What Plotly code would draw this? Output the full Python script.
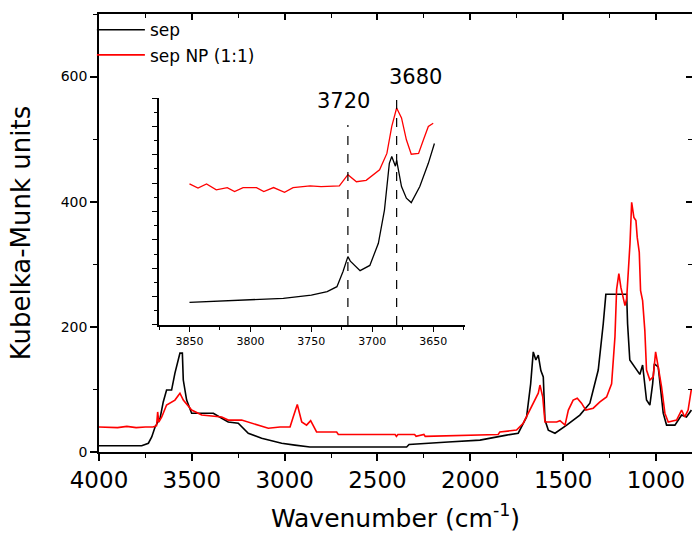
import plotly.graph_objects as go

# ---- main spectrum: sep (black) ----
sep_wn = [4000, 3780, 3770, 3734, 3716, 3698, 3671, 3654, 3636, 3609, 3591, 3564, 3551, 3546,
          3528, 3501, 3440, 3384, 3339, 3304, 3250, 3196, 3124, 3016, 2945, 2864, 2343, 2330,
          2119, 1948, 1805, 1742, 1697, 1675, 1661, 1647, 1634, 1620, 1607, 1598, 1580, 1544,
          1481, 1410, 1356, 1311, 1284, 1270, 1158, 1153, 1141, 1104, 1087, 1072, 1051, 1033,
          1018, 1009, 988, 961, 943, 898, 862, 836, 809]
sep_km = [10, 10, 10, 14, 24, 40, 54, 80, 99, 99, 126, 158, 158, 115,
          83, 62, 62, 62, 54, 48, 46, 30, 22, 14, 11, 8, 8, 12,
          16, 19, 27, 30, 56, 109, 160, 147, 155, 130, 120, 51, 35, 30,
          43, 59, 78, 131, 205, 252, 252, 205, 147, 131, 124, 139, 83, 75,
          109, 141, 136, 62, 43, 43, 59, 56, 67]

# ---- main spectrum: sep NP (1:1) (red) ----
np_wn = [4000, 3900, 3850, 3800, 3750, 3709, 3690, 3684, 3678, 3662, 3636, 3591, 3564, 3546,
         3501, 3447, 3339, 3304, 3232, 3178, 3088, 3025, 2971, 2954, 2932, 2908, 2882, 2860,
         2828, 2720, 2711, 2405, 2398, 2390, 2300, 2292, 2250, 2243, 1850, 1841, 1751, 1715,
         1688, 1661, 1634, 1625, 1610, 1598, 1535, 1517, 1490, 1472, 1446, 1424, 1401, 1378,
         1338, 1302, 1266, 1239, 1221, 1212, 1200, 1189, 1176, 1167, 1158, 1149, 1140, 1131,
         1119, 1108, 1101, 1090, 1083, 1072, 1060, 1051, 1033, 1015, 1002, 988, 970, 952,
         934, 889, 862, 845, 827, 809]
np_km = [40, 39, 41, 39, 40, 40, 42, 64, 48, 56, 75, 83, 94, 83,
         67, 59, 56, 51, 51, 46, 38, 40, 40, 56, 76, 48, 43, 50,
         32, 32, 28, 28, 25, 28, 28, 25, 28, 25, 28, 32, 35, 46,
         62, 78, 94, 107, 88, 48, 48, 50, 43, 67, 83, 86, 78, 67,
         70, 80, 88, 109, 184, 260, 285, 263, 248, 234, 245, 282, 333, 399,
         375, 370, 343, 319, 258, 242, 194, 131, 115, 120, 160, 136, 104, 62,
         48, 51, 67, 56, 67, 101]

# ---- inset (3850-3650 cm-1, arbitrary units) ----
in_sep_wn = [3850, 3800, 3773, 3750, 3737, 3729, 3724, 3720, 3718, 3710, 3702, 3695, 3690,
             3686, 3684, 3681, 3680, 3676, 3672, 3668, 3661, 3654, 3649]
in_sep_v = [1.6, 1.76, 1.88, 2.1, 2.35, 2.7, 3.77, 4.82, 4.5, 3.83, 4.2, 5.76, 8.1,
            11.4, 11.88, 11.2, 11.6, 9.76, 8.94, 8.63, 9.76, 11.4, 12.8]
in_np_wn = [3850, 3843, 3836, 3828, 3819, 3813, 3806, 3795, 3789, 3781, 3772, 3765, 3751,
            3742, 3727, 3720, 3713, 3705, 3694, 3688, 3684, 3680, 3676, 3672, 3668, 3662,
            3658, 3654, 3650]
in_np_v = [9.95, 9.65, 9.95, 9.53, 9.69, 9.41, 9.69, 9.69, 9.41, 9.69, 9.36, 9.69, 9.81,
           9.76, 9.81, 10.6, 10.1, 10.2, 10.94, 12.1, 14.0, 15.3, 14.6, 13.06, 12.04, 12.1,
           13.06, 14.0, 14.23]

marks = ["3720", "3680"]
mark_wn = [3720, 3680]
mark_top = [14.1, 16.0]

FONT = "DejaVu Sans"

fig = go.Figure()
fig.add_trace(go.Scatter(x=sep_wn, y=sep_km, mode="lines", name="sep",
                         line=dict(color="black", width=1.6)))
fig.add_trace(go.Scatter(x=np_wn, y=np_km, mode="lines", name="sep NP (1:1)",
                         line=dict(color="#ff0000", width=1.6)))
# mirror axes helper (invisible)
fig.add_trace(go.Scatter(x=[4000], y=[0], xaxis="x2", yaxis="y2", mode="markers",
                         marker=dict(opacity=0), showlegend=False, hoverinfo="skip"))
# inset
fig.add_trace(go.Scatter(x=in_sep_wn, y=in_sep_v, xaxis="x3", yaxis="y3", mode="lines",
                         line=dict(color="black", width=1.3), showlegend=False))
fig.add_trace(go.Scatter(x=in_np_wn, y=in_np_v, xaxis="x3", yaxis="y3", mode="lines",
                         line=dict(color="#ff0000", width=1.3), showlegend=False))

for wn, top in zip(mark_wn, mark_top):
    fig.add_shape(type="line", xref="x3", yref="y3", x0=wn, x1=wn, y0=0, y1=top,
                  line=dict(color="black", width=1.2, dash="dash"))

# peak labels (paper coordinates so they are not hidden outside the inset range)
fig.add_annotation(x=(343 - 99) / 593, y=(452 - 101) / 438, xref="paper", yref="paper",
                   xanchor="center", yanchor="middle",
                   text=marks[0], showarrow=False,
                   font=dict(family=FONT, size=21, color="black"))
fig.add_annotation(x=(415 - 99) / 593, y=(452 - 77) / 438, xref="paper", yref="paper",
                   xanchor="center", yanchor="middle",
                   text=marks[1], showarrow=False,
                   font=dict(family=FONT, size=21, color="black"))

XR = [4000, 806]
fig.update_layout(
    width=692, height=533,
    margin=dict(l=99, r=0, t=14, b=81, autoexpand=False),
    paper_bgcolor="white", plot_bgcolor="white",
    font=dict(family=FONT, color="black"),
    showlegend=True,
    legend=dict(x=-0.012, y=1.004, xanchor="left", yanchor="top", bgcolor="rgba(0,0,0,0)",
                font=dict(family=FONT, size=17), itemwidth=48, tracegroupgap=0),
    xaxis=dict(range=XR, domain=[0, 1], anchor="y", showgrid=False, zeroline=False,
               automargin=False,
               showline=True, linecolor="black", linewidth=1.5,
               ticks="outside", ticklen=7, tickwidth=1.5, tickcolor="black",
               tick0=0, dtick=500,
               minor=dict(dtick=250, tick0=0, ticks="outside", ticklen=4, tickwidth=1.2,
                          tickcolor="black"),
               tickfont=dict(family=FONT, size=23),
               title=dict(text="Wavenumber (cm<sup>-1</sup>)", font=dict(family=FONT, size=25),
                          standoff=20)),
    yaxis=dict(range=[0, 700], domain=[0, 1], anchor="x", showgrid=False, zeroline=False,
               automargin=False,
               showline=True, linecolor="black", linewidth=1.5,
               ticks="outside", ticklen=7, tickwidth=1.5, tickcolor="black",
               tick0=0, dtick=200,
               minor=dict(dtick=100, tick0=0, ticks="outside", ticklen=4, tickwidth=1.2,
                          tickcolor="black"),
               tickfont=dict(family=FONT, size=14),
               title=dict(text="Kubelka-Munk units", font=dict(family=FONT, size=26),
                          standoff=23)),
    xaxis2=dict(range=XR, overlaying="x", side="top", anchor="y2", showgrid=False,
                automargin=False,
                zeroline=False, showline=True, linecolor="black", linewidth=1.5,
                ticks="inside", ticklen=6, tickwidth=1.5, tickcolor="black",
                tick0=0, dtick=500, showticklabels=False,
                minor=dict(dtick=250, tick0=0, ticks="inside", ticklen=4, tickwidth=1.2,
                           tickcolor="black")),
    yaxis2=dict(range=[0, 700], overlaying="y", side="right", anchor="x2", showgrid=False,
                automargin=False,
                zeroline=False, showline=False,
                ticks="inside", ticklen=6, tickwidth=1.5, tickcolor="black",
                tick0=0, dtick=200, showticklabels=False,
                minor=dict(dtick=100, tick0=0, ticks="inside", ticklen=4, tickwidth=1.2,
                           tickcolor="black")),
    xaxis3=dict(range=[3875, 3624], domain=[0.1012, 0.617], anchor="y3", showgrid=False,
                automargin=False,
                zeroline=False, showline=True, linecolor="black", linewidth=1.5,
                ticks="outside", ticklen=5, tickwidth=1.2, tickcolor="black",
                tick0=0, dtick=50,
                minor=dict(dtick=25, tick0=0, ticks="outside", ticklen=3, tickwidth=1,
                           tickcolor="black"),
                tickfont=dict(family=FONT, size=11)),
    yaxis3=dict(range=[0, 16], domain=[0.29, 0.808], anchor="x3", showgrid=False,
                automargin=False,
                zeroline=False, showline=True, linecolor="black", linewidth=1.5,
                ticks="outside", ticklen=5, tickwidth=1.2, tickcolor="black",
                tick0=0, dtick=2, showticklabels=False,
                minor=dict(dtick=1, tick0=0, ticks="outside", ticklen=3, tickwidth=1,
                           tickcolor="black")),
)

fig.write_html("out.html", config={"displayModeBar": False},
               post_script="document.body.style.margin='0';document.body.style.overflow='hidden';")
